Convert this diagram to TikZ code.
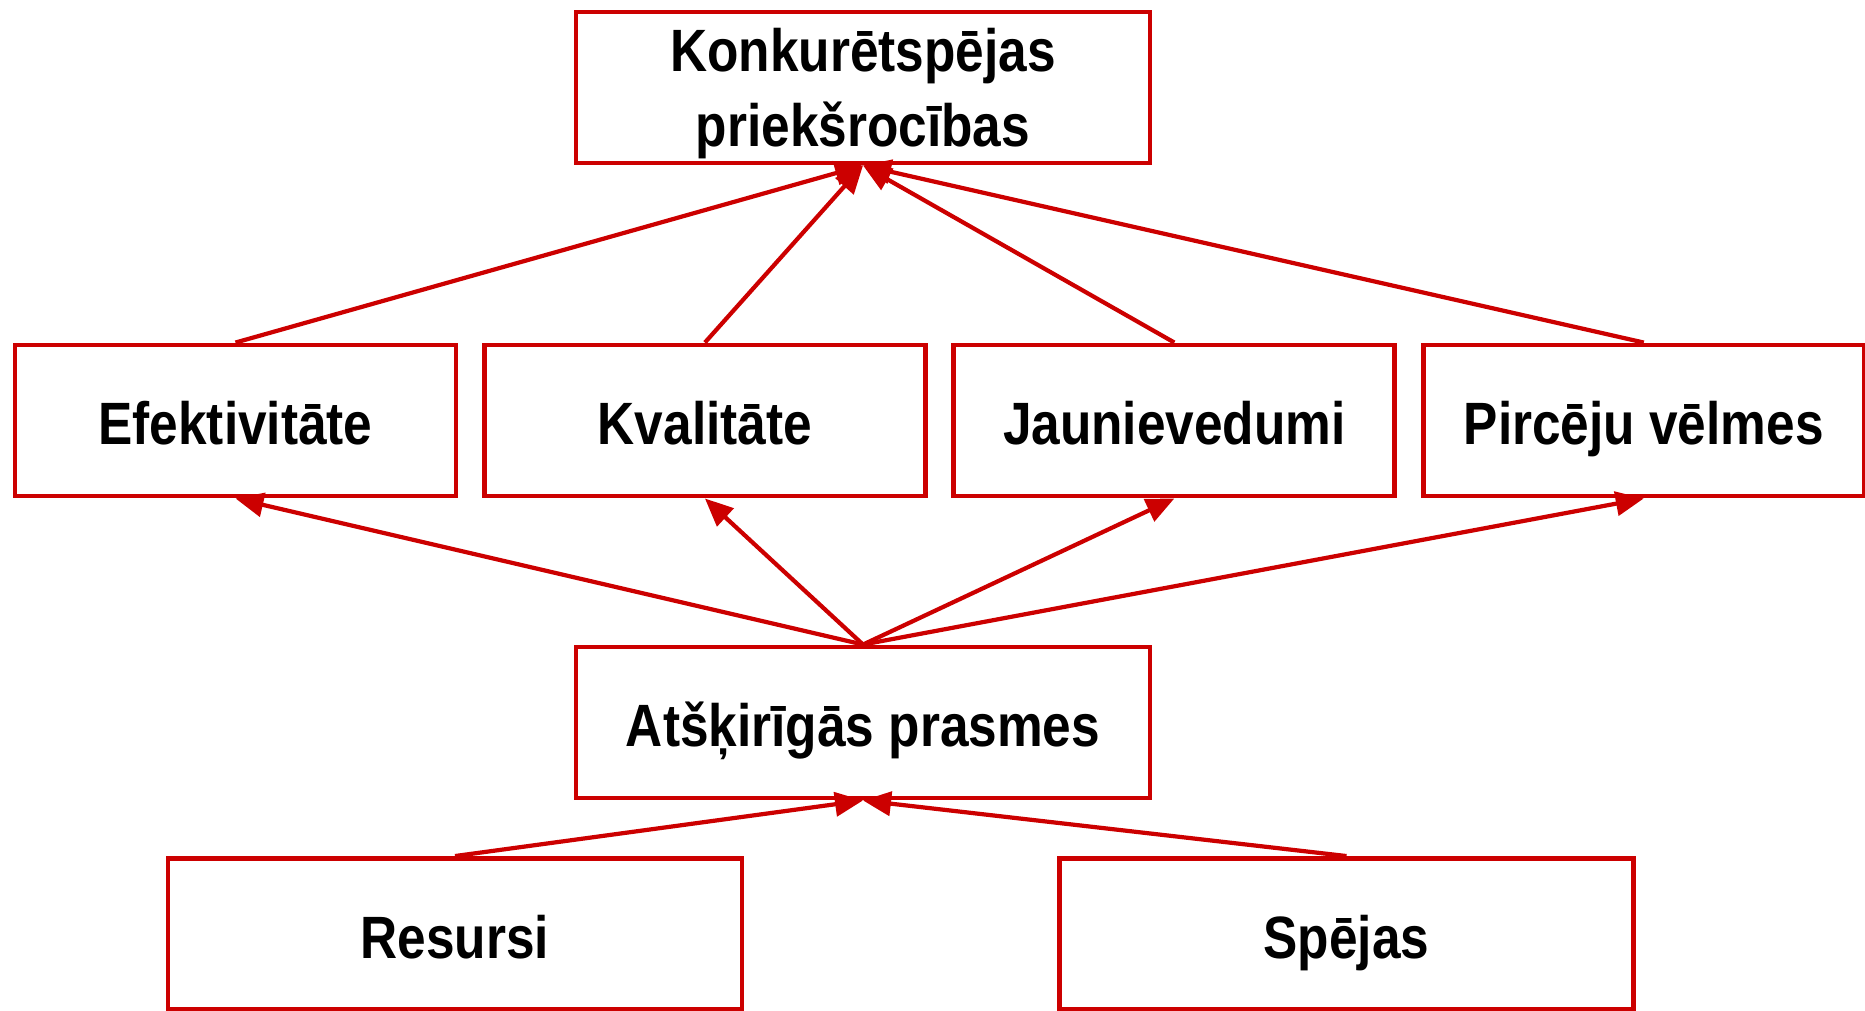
\documentclass[tikz,border=0pt]{standalone}
\usepackage{fontspec}
\setmainfont[FakeStretch=0.86]{Liberation Sans}
\usetikzlibrary{arrows.meta,positioning}
\definecolor{boxred}{RGB}{204,0,0}

\begin{document}
\begin{tikzpicture}[auto, node distance=0.235cm,
    block/.style = {rectangle, minimum width=4.41cm, minimum height=1.51cm, text centered, draw=boxred, line width=1.4pt, font=\fontsize{17}{21.3}\selectfont\bfseries, text height=16pt, text depth=2.2pt},
    wideblock/.style = {block, minimum width=5.74cm},
    arrow/.style = {draw=boxred, line width=1.2pt, -{Triangle[length=0.28cm,width=0.24cm]}}
]
\useasboundingbox (0,0) rectangle (18.65,-10.10);

% Nodes
\node (konk) [wideblock, align=center, text height=, text depth=0pt] at (8.63,-0.875) {Konkurētspējas\\priekšrocības};
\node (efekt) [block] at (2.355,-4.205) {Efektivitāte};
\node (kval) [block, right=of efekt] {Kvalitāte};
\node (jaun) [block, right=of kval] {Jaunievedumi};
\node (pirc) [block, right=of jaun] {Pircēju vēlmes};
\node (prasm) [wideblock] at (8.63,-7.225) {Atšķirīgās prasmes};
\node (resur) [wideblock] at (4.55,-9.34) {Resursi};
\node (spej) [wideblock] at (13.465,-9.34) {Spējas};

% Edges
\draw [arrow] (efekt.north) -- (konk.south);
\draw [arrow] (kval.north) -- (konk.south);
\draw [arrow] (jaun.north) -- (konk.south);
\draw [arrow] (pirc.north) -- (konk.south);
\draw [arrow] (prasm.north) -- (efekt.south);
\draw [arrow] (prasm.north) -- (kval.south);
\draw [arrow] (prasm.north) -- (jaun.south);
\draw [arrow] (prasm.north) -- (pirc.south);
\draw [arrow] (resur.north) -- (prasm.south);
\draw [arrow] (spej.north) -- (prasm.south);

\end{tikzpicture}
\end{document}
